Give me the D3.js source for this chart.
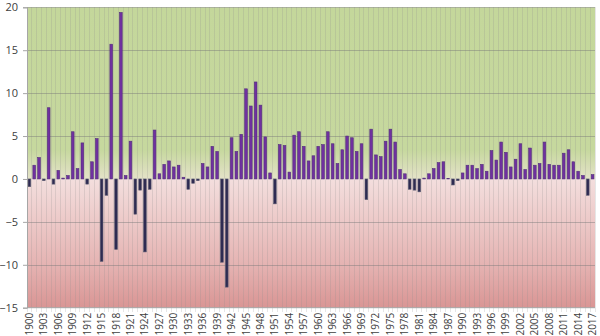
<!DOCTYPE html>
<html><head><meta charset="utf-8">
<script src="https://cdn.jsdelivr.net/npm/d3@7"></script>
<style>body{margin:0;background:#fff}svg{display:block}</style>
</head><body><svg id="c" width="600" height="336"></svg>
<script>
const startYear = 1900, endYear = 2017;
const years = d3.range(startYear, endYear + 1);
const values = [
 -0.9,1.6,2.5,-0.2,8.3,-0.6,1.0,0.1,0.4,5.5,
 1.2,4.2,-0.6,2.0,4.7,-9.6,-1.9,15.7,-8.2,19.4,
 0.4,4.4,-4.1,-1.3,-8.5,-1.2,5.7,0.6,1.7,2.1,
 1.4,1.6,0.2,-1.2,-0.5,-0.2,1.8,1.4,3.8,3.2,
 -9.7,-12.6,4.8,3.2,5.2,10.5,8.5,11.3,8.6,4.9,
 0.7,-2.9,4.0,3.9,0.8,5.1,5.5,3.8,2.1,2.7,
 3.8,4.0,5.5,4.1,1.8,3.4,5.0,4.8,3.2,4.1,
 -2.4,5.8,2.8,2.6,4.4,5.8,4.3,1.1,0.6,-1.2,
 -1.3,-1.5,0.1,0.6,1.2,1.9,2.0,0.05,-0.7,-0.2,
 0.7,1.6,1.6,1.2,1.7,0.9,3.3,2.2,4.3,3.1,
 1.4,2.3,4.1,1.1,3.6,1.6,1.8,4.3,1.7,1.6,
 1.6,3.0,3.4,2.0,0.9,0.4,-1.9,0.5
];
const yTicks = [-15,-10,-5,0,5,10,15,20];
const xLabelYears = years.filter(y => (y - startYear) % 3 === 0);

const svg = d3.select("#c");
const m = {l:27, r:595, t:7.3, b:307.7};
const x = d3.scaleBand().domain(years).range([m.l, m.r]).padding(0);
const y = d3.scaleLinear().domain([-15, 20]).range([m.b, m.t]);

const defs = svg.append("defs");
const g = defs.append("linearGradient").attr("id","bg")
  .attr("gradientUnits","userSpaceOnUse").attr("x1",0).attr("x2",0)
  .attr("y1",m.t).attr("y2",m.b);
const H = m.b - m.t;
const off = v => (y(v) - m.t) / H;
[[0,"#c4d79b"],[off(3.4),"#c6d89e"],[off(0.02),"#e4e2c8"],[off(-0.02),"#f3dedd"],
 [off(-4),"#eecdcc"],[off(-10),"#e5b3b2"],[1,"#d99594"]]
 .forEach(([o,c]) => g.append("stop").attr("offset",o).attr("stop-color",c));

svg.append("rect").attr("x",m.l).attr("y",m.t).attr("width",m.r-m.l).attr("height",m.b-m.t)
  .attr("fill","url(#bg)");

// vertical year grid lines (extend slightly below as ticks)
svg.append("g").selectAll("line").data(years.concat([endYear+1])).join("line")
  .attr("x1",(d,i)=> m.l + i*x.bandwidth()).attr("x2",(d,i)=> m.l + i*x.bandwidth())
  .attr("y1",m.t).attr("y2",m.b+4)
  .attr("stroke","rgba(140,140,140,0.22)").attr("stroke-width",1).attr("shape-rendering","crispEdges");

// horizontal grid lines
svg.append("g").selectAll("line").data(yTicks.filter(t=>t!==-15 && t!==0)).join("line")
  .attr("x1",m.l).attr("x2",m.r).attr("y1",d=>Math.round(y(d))+0.5).attr("y2",d=>Math.round(y(d))+0.5)
  .attr("stroke","rgba(120,120,120,0.45)").attr("stroke-width",1);

// bars
const bw = x.bandwidth()*0.56;
svg.append("g").selectAll("rect").data(values).join("rect")
  .attr("x",(d,i)=> x(years[i]) + (x.bandwidth()-bw)/2)
  .attr("y",d=> d>=0 ? y(d) : y(0))
  .attr("width",bw)
  .attr("height",d=> Math.abs(y(d)-y(0)))
  .attr("fill",d=> d>=0 ? "#7030a0" : "#2e2b52")
  .attr("stroke",d=> d>=0 ? "#52307a" : "#5a5a70")
  .attr("stroke-width",0.6);

// y axis
const ya = svg.append("g").attr("transform",`translate(${m.l},0)`)
  .call(d3.axisLeft(y).tickValues(yTicks).tickSize(4).tickPadding(5));
ya.select(".domain").attr("stroke","#a6a6a6");
ya.selectAll(".tick line").attr("stroke","#a6a6a6");
ya.selectAll("text").attr("font-family","Open Sans, Liberation Sans, sans-serif")
  .attr("font-size",11).attr("fill","#404040");

// bottom axis line
svg.append("line").attr("x1",m.l).attr("x2",m.r).attr("y1",m.b).attr("y2",m.b)
  .attr("stroke","#a6a6a6");

// x labels
const xa = svg.append("g").attr("transform",`translate(0,${m.b})`)
  .call(d3.axisBottom(x).tickValues(xLabelYears).tickSize(0).tickPadding(0));
xa.select(".domain").remove();
xa.selectAll("text")
  .attr("font-family","Open Sans, Liberation Sans, sans-serif").attr("font-size",10).attr("fill","#404040")
  .attr("transform","rotate(-90)").attr("text-anchor","end")
  .attr("x",-5).attr("y",0).attr("dy","0.35em");
</script></body></html>
